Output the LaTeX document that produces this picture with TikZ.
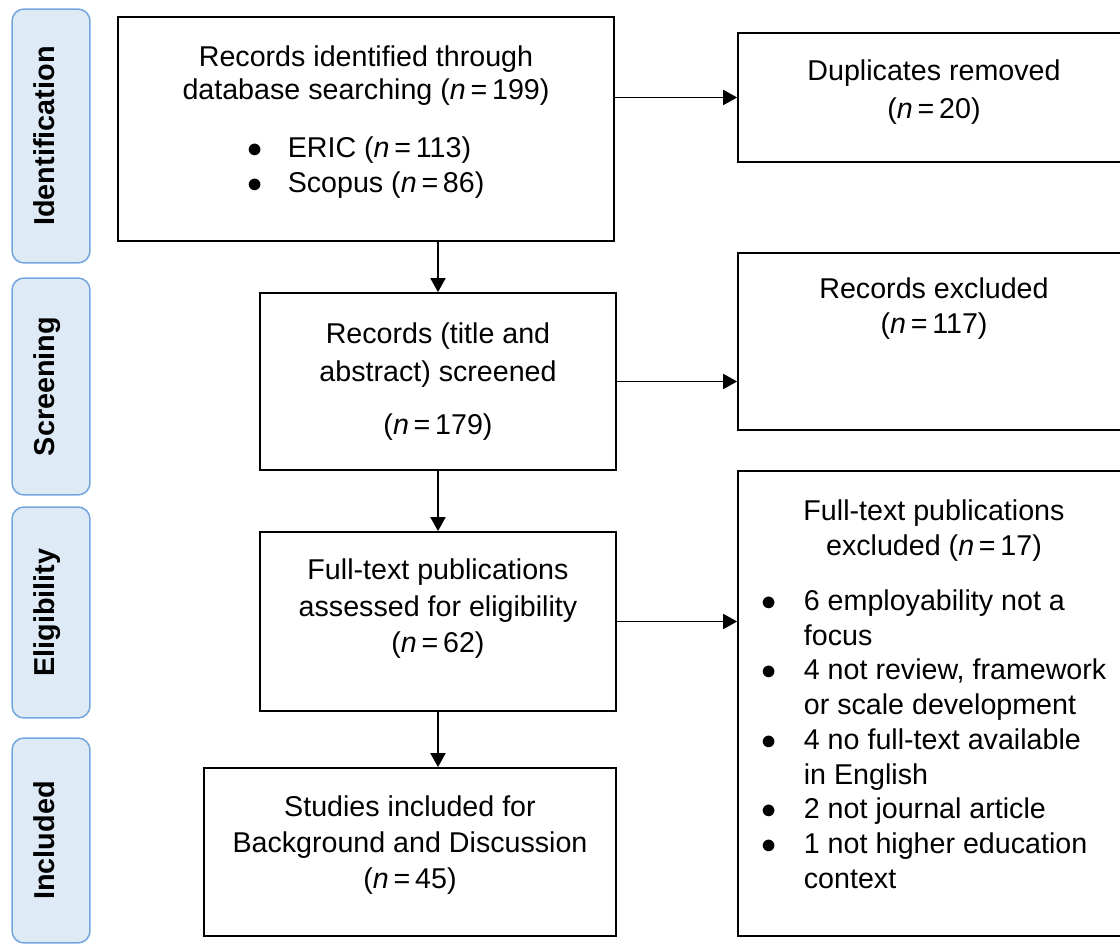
\documentclass[tikz,border=0pt]{standalone}
\usepackage{fontspec}
\setmainfont{Liberation Sans}
\usetikzlibrary{arrows.meta}
\definecolor{PhaseFill}{RGB}{222,235,247}
\definecolor{PhaseLine}{RGB}{116,166,222}
\renewcommand{\arraystretch}{1.05}
\newcommand{\ncount}[1]{(\textit{n}\,=\,#1)}
\newcommand{\padbelow}[1]{\\[#1]\mbox{}}
\newcommand{\dotmark}{$\bullet$}

\begin{document}
\begin{tikzpicture}[x=0.02cm, y=-0.02cm,
  phase/.style={draw=PhaseLine, fill=PhaseFill, line width=0.03cm, rounded corners=0.24cm,
    rotate=90, minimum height=1.56cm, inner sep=0pt, text height=0.42cm, text depth=0.29cm,
    font=\fontsize{16.4}{19}\selectfont\bfseries},
  box/.style={draw, line width=0.035cm, inner sep=0pt, align=center,
    font=\fontsize{16.3}{18.8}\selectfont},
  arrow/.style={-{Triangle[length=0.28cm,width=0.3cm]}, line width=0.035cm}]

% Canvas
\useasboundingbox (0,0) rectangle (1120,945);
\clip (0,0) rectangle (1120,945);

% Phases
\node[phase, minimum width=5.08cm] (identification) at (51,136) {Identification};
\node[phase, minimum width=4.34cm] (screening) at (51,386.5) {Screening};
\node[phase, minimum width=4.22cm] (eligibility) at (51,612.5) {Eligibility};
\node[phase, minimum width=4.1cm] (included) at (51,840.5) {Included};

% Main flow
\node[box, minimum width=9.92cm, minimum height=4.48cm] (records) at (366,129)
  {Records identified through\\database searching \ncount{199}\\[0.5cm]
   \begin{tabular}[t]{@{}l@{\hspace{0.5cm}}l@{}}
   \dotmark & ERIC \ncount{113}\\
   \dotmark & Scopus \ncount{86}\rule[-0.4cm]{0pt}{0.1cm}
   \end{tabular}};
\node[box, minimum width=7.12cm, minimum height=3.54cm] (screened) at (438,381.5)
  {Records (title and\\[0.1cm]abstract) screened\\[0.4cm]\ncount{179}};
\node[box, minimum width=7.12cm, minimum height=3.58cm] (assessed) at (438,621.5)
  {Full-text publications\\[0.07cm]assessed for eligibility\\[0.07cm]\ncount{62}\padbelow{-0.04cm}};
\node[box, minimum width=8.24cm, minimum height=3.36cm] (studies) at (410,852)
  {Studies included for\\[0.06cm]Background and Discussion\\[0.06cm]\ncount{45}\padbelow{-0.28cm}};

% Exclusions
\node[box, minimum width=7.84cm, minimum height=2.58cm] (duplicates) at (934,97.5)
  {Duplicates removed\\[0.1cm]\ncount{20}\padbelow{-0.34cm}};
\node[box, minimum width=7.84cm, minimum height=3.54cm] (excluded) at (934,341.5)
  {Records excluded\\[0.04cm]\ncount{117}\padbelow{0.78cm}};
\node[box, minimum width=7.84cm, minimum height=9.3cm] (fulltext) at (934,703.5)
  {Full-text publications\\[0.04cm]excluded \ncount{17}\\[0.44cm]
   \begin{tabular}[t]{@{}l@{\hspace{0.54cm}}l@{}}
   \dotmark & 6 employability not a\\
            & focus\\
   \dotmark & 4 not review, framework\\
            & or scale development\\
   \dotmark & 4 no full-text available\\
            & in English\\
   \dotmark & 2 not journal article\\
   \dotmark & 1 not higher education\\
            & context
   \end{tabular}\padbelow{0.14cm}};

% Arrows
\draw[arrow] (records.south -| screened.north) -- (screened.north);
\draw[arrow] (screened.south) -- (assessed.north);
\draw[arrow] (assessed.south) -- (studies.north -| assessed.south);
\draw[arrow] (records.east |- duplicates.west) -- (duplicates.west);
\draw[arrow] (screened.east) -- (screened.east -| excluded.west);
\draw[arrow] (assessed.east) -- (assessed.east -| fulltext.west);

\end{tikzpicture}
\end{document}
